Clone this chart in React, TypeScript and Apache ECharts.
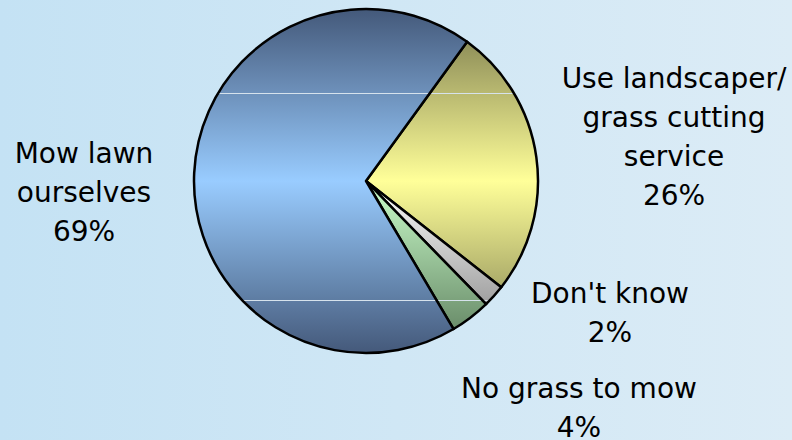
import React, { useEffect, useRef } from "react";
import * as echarts from "echarts";

const categories = [
  "Use landscaper/\ngrass cutting\nservice",
  "Don't know",
  "No grass to mow",
  "Mow lawn\nourselves",
];
const values = [25.6, 2.1, 3.8, 68.5];

const darkColors = ["#75754a", "#7a7a7a", "#5a7a5a", "#44597a"];
const lightColors = ["#ffff99", "#ffffff", "#ccffcc", "#99ccff"];

const labelPos: [number, number][] = [
  [674, 137],
  [610, 313],
  [579, 408],
  [84, 192],
];

function hexToRgb(h: string) {
  const n = parseInt(h.slice(1), 16);
  return [(n >> 16) & 255, (n >> 8) & 255, n & 255];
}
function mix(a: string, b: string, t: number) {
  const A = hexToRgb(a);
  const B = hexToRgb(b);
  const c = A.map((v, i) => Math.round(v + (B[i] - v) * t));
  return `rgb(${c[0]},${c[1]},${c[2]})`;
}
function colorAt(dark: string, light: string, o: number) {
  const t = o <= 0.5 ? o / 0.5 : (1 - o) / 0.5;
  return mix(dark, light, t);
}

const PIE_TOP = 9;
const PIE_BOTTOM = 353;
const stripes = [0.247, 0.846];
const stripeColor = "#d6e2ec";

function makeGrad(dark: string, light: string) {
  const stops: { offset: number; color: string }[] = [
    { offset: 0, color: dark },
  ];
  const h = 0.0015;
  const pts = [stripes[0], 0.5, stripes[1]];
  pts.forEach((o) => {
    if (o === 0.5) {
      stops.push({ offset: 0.5, color: light });
    } else {
      stops.push({ offset: o - h, color: colorAt(dark, light, o - h) });
      stops.push({ offset: o - h, color: stripeColor });
      stops.push({ offset: o + h, color: stripeColor });
      stops.push({ offset: o + h, color: colorAt(dark, light, o + h) });
    }
  });
  stops.push({ offset: 1, color: dark });
  return {
    type: "linear",
    x: 0,
    y: PIE_TOP,
    x2: 0,
    y2: PIE_BOTTOM,
    global: true,
    colorStops: stops,
  };
}

export default function App() {
  const ref = useRef<HTMLDivElement>(null);
  useEffect(() => {
    if (!ref.current) return;
    const chart = echarts.init(ref.current, null, { renderer: "svg" });
    const total = values.reduce((a, b) => a + b, 0);
    chart.setOption({
      animation: false,
      backgroundColor: {
        type: "linear",
        x: 0,
        y: 0,
        x2: 1,
        y2: 0,
        colorStops: [
          { offset: 0, color: "#c4e2f4" },
          { offset: 1, color: "#dcecf6" },
        ],
      },
      series: [
        {
          type: "pie",
          center: [366, 181],
          radius: 172,
          startAngle: 54,
          clockwise: true,
          avoidLabelOverlap: false,
          data: categories.map((name, i) => ({
            name,
            value: values[i],
            itemStyle: { color: makeGrad(darkColors[i], lightColors[i]) },
          })),
          itemStyle: { borderColor: "#000", borderWidth: 2.5, borderJoin: "round" },
          emphasis: { disabled: true },
          label: {
            show: true,
            position: "outside",
            fontFamily: "DejaVu Sans",
            fontSize: 28,
            lineHeight: 39,
            color: "#000",
            align: "center",
            formatter: (p: any) =>
              `${p.name}\n${Math.round((p.value / total) * 100)}%`,
          },
          labelLine: { show: false },
          labelLayout: (p: any) => ({
            x: labelPos[p.dataIndex][0],
            y: labelPos[p.dataIndex][1],
            align: "center",
            verticalAlign: "middle",
          }),
        },
      ],
    });
    return () => chart.dispose();
  }, []);
  return (
    <div
      ref={ref}
      style={{ position: "fixed", left: 0, top: 0, width: 792, height: 440 }}
    />
  );
}
